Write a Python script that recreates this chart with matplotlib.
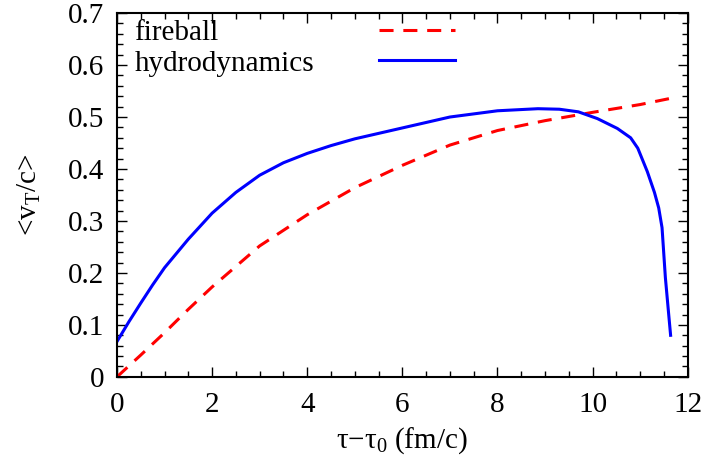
import matplotlib
matplotlib.use("Agg")
import matplotlib.pyplot as plt
from matplotlib.ticker import MultipleLocator

plt.rcParams['font.family'] = ['Liberation Serif', 'DejaVu Serif']
plt.rcParams['mathtext.fontset'] = 'custom'
plt.rcParams['mathtext.rm'] = 'Liberation Serif'
plt.rcParams['mathtext.it'] = 'Liberation Serif'

series_labels = ['fireball', 'hydrodynamics']

# fireball (red dashed)
t_fire = [0.0, 0.5, 1.0, 1.5, 2.0, 3.0, 4.0, 5.0, 6.0, 7.0, 8.0, 9.0, 10.0, 11.0, 11.75]
v_fire = [0.0, 0.042, 0.085, 0.130, 0.173, 0.252, 0.312, 0.364, 0.407, 0.446, 0.474, 0.493, 0.509, 0.524, 0.538]

# hydrodynamics (blue solid)
t_hydro = [0.0, 0.25, 0.5, 0.75, 1.0, 1.5, 2.0, 2.5, 3.0, 3.5, 4.0, 4.5, 5.0, 6.0, 7.0, 8.0, 8.85, 9.3, 9.7,
           10.1, 10.52, 10.8, 10.95, 11.15, 11.3, 11.39, 11.46, 11.53, 11.6, 11.64]
v_hydro = [0.068, 0.106, 0.142, 0.177, 0.21, 0.265, 0.315, 0.355, 0.388, 0.412, 0.43, 0.445, 0.458, 0.479,
           0.50, 0.512, 0.516, 0.515, 0.51, 0.497, 0.478, 0.46, 0.44, 0.395, 0.355, 0.325, 0.287, 0.191, 0.12, 0.08]

x_ticks = [0, 2, 4, 6, 8, 10, 12]
x_ticklabels = ['0', '2', '4', '6', '8', '10', '12']
y_ticks = [0, 0.1, 0.2, 0.3, 0.4, 0.5, 0.6, 0.7]
y_ticklabels = ['0', '0.1', '0.2', '0.3', '0.4', '0.5', '0.6', '0.7']

FS = 21

fig = plt.figure(figsize=(7.09, 4.67), dpi=100)
ax = fig.add_axes([0.165, 0.193, 0.805, 0.779])

l1, = ax.plot(t_fire, v_fire, color='#ff0000', lw=2.2, dashes=(4.6, 3.2))
l2, = ax.plot(t_hydro, v_hydro, color='#0000ff', lw=2.2)

ax.set_xlim(0, 12)
ax.set_ylim(0, 0.7)
ax.set_xticks(x_ticks)
ax.set_xticklabels(x_ticklabels)
ax.set_yticks(y_ticks)
ax.set_yticklabels(y_ticklabels)
ax.xaxis.set_minor_locator(MultipleLocator(0.5))
ax.yaxis.set_minor_locator(MultipleLocator(0.02))
ax.tick_params(which='both', direction='in', top=True, right=True, labelsize=FS, colors='#000000')
ax.tick_params(which='major', length=7, width=1.0)
ax.tick_params(axis='x', which='major', pad=11)
ax.tick_params(axis='y', which='major', pad=9)
ax.tick_params(which='minor', length=4, width=1.0)
for s in ax.spines.values():
    s.set_linewidth(1.5)

ax.set_xlabel('τ−τ$_0$ (fm/c)', fontsize=FS, labelpad=5)
ax.set_ylabel('<v$_\\mathrm{T}$/c>', fontsize=FS, labelpad=18)

# gnuplot-style key: text on the left, samples on the right
leg_kw = dict(loc='upper left', frameon=False, fontsize=FS, labelspacing=0.15,
              borderaxespad=0.0, borderpad=0.22)
legA = ax.legend([l1, l2], series_labels, bbox_to_anchor=(0.019, 1.0),
                 handlelength=0, handletextpad=0, **leg_kw)
for h in legA.legend_handles:
    h.set_visible(False)
ax.add_artist(legA)
legB = ax.legend([l1, l2], series_labels, bbox_to_anchor=(0.448, 1.0),
                 handlelength=2.6, handletextpad=0, **leg_kw)
for t in legB.get_texts():
    t.set_alpha(0)

fig.savefig('out.png', dpi=100)
